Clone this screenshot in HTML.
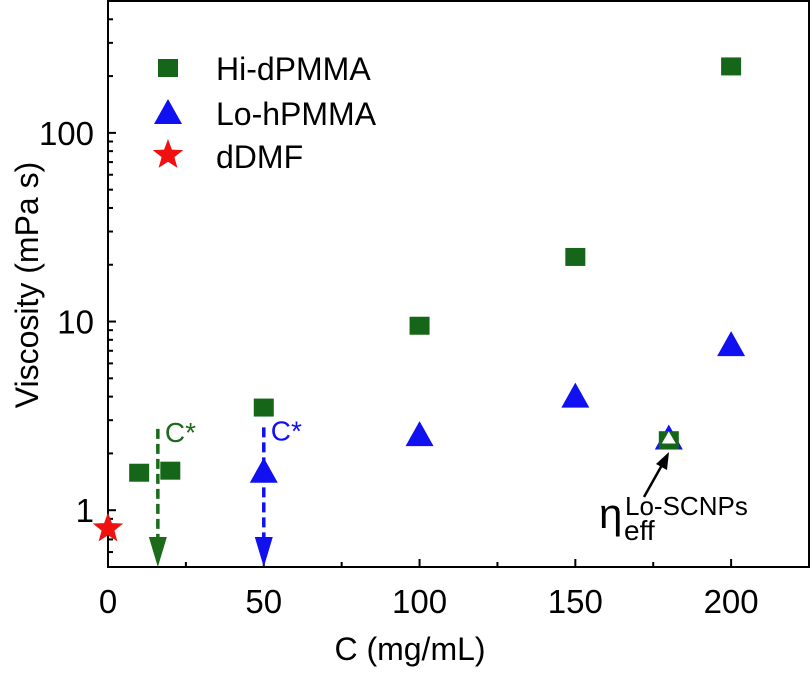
<!DOCTYPE html>
<html><head><meta charset="utf-8"><style>
body{margin:0;background:#fff}
text{font-family:"Liberation Sans",Arial,sans-serif}
</style></head><body>
<svg id="chart" width="812" height="669" xmlns="http://www.w3.org/2000/svg"></svg>
<script>
const xTicks=[0,50,100,150,200];
const yTicks=[1,10,100];
const hiC=[10,20,50,100,150,180,200];
const hiV=[1.58,1.62,3.5,9.5,22,2.35,225];
const loC=[50,100,150,180,200];
const loV=[1.6,2.5,4.0,2.4,7.5];
const dmfC=[0];
const dmfV=[0.8];
const cStarHi=16, cStarLo=50;

const L=108,R=809,T=1,B=567;
const xmin=0,xmax=225,ymin=0.5,ymax=500;
const X=v=>L+(v-xmin)/(xmax-xmin)*(R-L);
const Y=v=>B-(Math.log10(v)-Math.log10(ymin))/(Math.log10(ymax)-Math.log10(ymin))*(B-T);
const svg=document.getElementById('chart');
const NS='http://www.w3.org/2000/svg';
function mk(tag,attrs,parent){const e=document.createElementNS(NS,tag);for(const k in attrs)e.setAttribute(k,attrs[k]);(parent||svg).appendChild(e);return e;}

const frame=mk('rect',{x:L,y:T,width:R-L,height:B-T,fill:'none',stroke:'#000','stroke-width':2});



for(let v=0;v<=225;v+=25){
  const major=v%50===0;
  const t=mk('line',{x1:X(v),x2:X(v),y1:B,y2:B-(major?8:5),stroke:'#000','stroke-width':2});
  
  
}
xTicks.forEach(v=>{
  const t=mk('text',{x:X(v),y:B+46,'font-size':33,'text-anchor':'middle'});
  t.textContent=v;
  
  
});
for(let d=-1;d<=2;d++){
  for(let m=1;m<=9;m++){
    const v=m*Math.pow(10,d);
    if(v<ymin||v>ymax)continue;
    const t=mk('line',{x1:L,x2:L+(m===1?8:5),y1:Y(v),y2:Y(v),stroke:'#000','stroke-width':2});
    
    
  }
}
yTicks.forEach(v=>{
  const t=mk('text',{x:L-14,y:Y(v)+12,'font-size':33,'text-anchor':'end'});
  t.textContent=v;
  
  
});
const xt=mk('text',{x:410,y:660,'font-size':32,'text-anchor':'middle'});
xt.textContent='C (mg/mL)';


const yt=mk('text',{x:0,y:0,'font-size':32,'text-anchor':'middle',transform:'translate(38,285) rotate(-90)'});
yt.textContent='Viscosity (mPa s)';



function square(cx,cy,fill){return mk('rect',{x:cx-10,y:cy-9,width:20,height:18,fill:fill});}
function tri(cx,cy,fill){return mk('polygon',{points:`${cx},${cy-14} ${cx+14},${cy+11} ${cx-14},${cy+11}`,fill:fill});}
function star(cx,cy,r,fill){let p=[];for(let i=0;i<10;i++){const a=-Math.PI/2+i*Math.PI/5;const rr=i%2?r*0.42:r;p.push((cx+rr*Math.cos(a)).toFixed(1)+','+(cy+rr*Math.sin(a)).toFixed(1));}return mk('polygon',{points:p.join(' '),fill:fill});}

function arrow(c,top,color,name){
  const x=X(c);
  const l=mk('line',{x1:x,x2:x,y1:Y(top),y2:B-24,stroke:color,'stroke-width':3.5,'stroke-dasharray':'10,5'});
  
  
  const h=mk('polygon',{points:`${x-9},${B-30} ${x+9},${B-30} ${x},${B}`,fill:color});
  
  
  const t=mk('text',{x:x+7,y:Y(top)+13,'font-size':28,fill:color});
  t.textContent='C*';
  
  
}
arrow(cStarHi,2.7,'#1a6b1a','c-star-hi');
arrow(cStarLo,2.75,'#1010f0','c-star-lo');

// draw lo first so the 180 green square sits on the blue triangle
loC.forEach((c,i)=>{
  const s=tri(X(c),Y(loV[i]),'#1010f0');
  
  
});
hiC.forEach((c,i)=>{
  const s=square(X(c),Y(hiV[i]),'#16661a');
  
  
});
const ot=mk('polygon',{points:`${X(180)},${Y(2.4)-7} ${X(180)+7},${Y(2.4)+5} ${X(180)-7},${Y(2.4)+5}`,fill:'#fff'});


dmfC.forEach((c,i)=>{
  const s=star(X(c),Y(dmfV[i]),16,'#f01010');
  
  
});

const an=mk('line',{x1:644,y1:497,x2:662,y2:465,stroke:'#000','stroke-width':2.5});


const ah=mk('polygon',{points:'669,452 656,464 667,470',fill:'#000'});


const eta=mk('text',{x:599,y:528,'font-size':42});
eta.textContent='η';


const sub=mk('text',{x:624,y:540,'font-size':28});
sub.textContent='eff';


const sup=mk('text',{x:625,y:515,'font-size':26});
sup.textContent='Lo-SCNPs';



const lg=[['Hi-dPMMA',68],['Lo-hPMMA',113],['dDMF',156]];
let m1=square(168,68,'#16661a');
let m2=tri(168,113,'#1010f0');
let m3=star(168,155,16,'#f01010');
lg.forEach(([t,y])=>{
  const e=mk('text',{x:216,y:y+12,'font-size':32});
  e.textContent=t;
  
  
});
</script>
</body></html>
